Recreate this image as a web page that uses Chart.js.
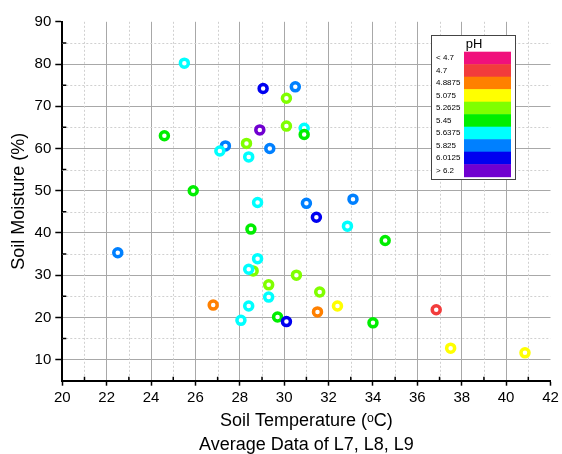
<!DOCTYPE html>
<html lang="en">

<head>
    <meta charset="UTF-8">
    <title>Soil Moisture vs Soil Temperature</title>
    <script src="https://cdn.jsdelivr.net/npm/chart.js"></script>
    <style>
        html,
        body {
            margin: 0;
            padding: 0;
            background: #fff;
            overflow: hidden;
        }

        #wrap {
            width: 562px;
            height: 454px;
        }
    </style>
</head>

<body>
    <div id="wrap">
        <canvas id="grafico" width="562" height="454"></canvas>
    </div>

    <script>
        // Valores (temperatura, humedad, clase de pH)
        const soilTemp = [25.5, 29.05, 30.5, 30.1, 24.6, 28.9, 30.1, 30.9, 30.9, 27.35,
            28.3, 27.1, 29.35, 28.4, 25.9, 28.8, 31.0, 33.1, 31.45, 32.85,
            28.5, 34.55, 22.5, 28.8, 28.6, 28.4, 30.55, 29.3, 31.6, 29.3,
            26.8, 28.4, 32.4, 31.5, 36.85, 28.05, 29.7, 30.1, 34.0, 37.5, 40.85];
        const soilMoist = [80.2, 74.2, 74.6, 71.9, 63.0, 64.4, 65.3, 64.8, 63.3, 60.6,
            61.2, 59.4, 60.0, 58.0, 50.0, 47.2, 47.0, 48.0, 43.7, 41.6,
            40.9, 38.2, 35.3, 33.9, 31.0, 31.4, 30.0, 27.7, 26.0, 24.8,
            22.9, 22.7, 22.7, 21.3, 21.8, 19.3, 20.1, 19.0, 18.7, 12.7, 11.6];
        const phClass = [6, 8, 7, 4, 5, 9, 4, 6, 5, 7,
            4, 6, 7, 6, 5, 6, 7, 7, 8, 6,
            5, 5, 7, 6, 4, 6, 4, 4, 4, 6,
            2, 6, 3, 2, 1, 6, 5, 8, 5, 3, 3];

        const xTicks = [20, 22, 24, 26, 28, 30, 32, 34, 36, 38, 40, 42];
        const xMinor = [21, 23, 25, 27, 29, 31, 33, 35, 37, 39, 41];
        const yTicks = [10, 20, 30, 40, 50, 60, 70, 80, 90];
        const yMinor = [15, 25, 35, 45, 55, 65, 75, 85];

        const phLabels = ['< 4.7', '4.7', '4.8875', '5.075', '5.2625', '5.45', '5.6375', '5.825', '6.0125', '> 6.2'];
        const phColors = ['#f0107c', '#f23c3c', '#ff8000', '#ffff00', '#80ff00', '#00ee00', '#00ffff', '#0080ff', '#0000f0', '#7000d0'];

        const fuente = '"Liberation Sans", Arial, sans-serif';

        // rejilla menor punteada y marcas menores hacia dentro
        const minorGrid = {
            id: 'minorGrid',
            beforeDatasetsDraw(chart) {
                const { ctx, chartArea: a, scales: { x, y } } = chart;
                ctx.save();
                ctx.strokeStyle = '#d0d0d0';
                ctx.lineWidth = 1;
                ctx.setLineDash([2, 2]);
                ctx.beginPath();
                xMinor.forEach(v => {
                    const px = Math.round(x.getPixelForValue(v)) + 0.5;
                    ctx.moveTo(px, a.top);
                    ctx.lineTo(px, a.bottom);
                });
                yMinor.forEach(v => {
                    const py = Math.round(y.getPixelForValue(v)) + 0.5;
                    ctx.moveTo(a.left, py);
                    ctx.lineTo(a.right, py);
                });
                ctx.stroke();

                ctx.setLineDash([]);
                ctx.strokeStyle = '#000';
                ctx.lineWidth = 1.5;
                ctx.beginPath();
                xMinor.forEach(v => {
                    const px = x.getPixelForValue(v);
                    ctx.moveTo(px, a.bottom);
                    ctx.lineTo(px, a.bottom - 4);
                });
                yMinor.forEach(v => {
                    const py = y.getPixelForValue(v);
                    ctx.moveTo(a.left, py);
                    ctx.lineTo(a.left + 4, py);
                });
                ctx.stroke();
                ctx.restore();
            }
        };

        // leyenda de pH con barras de color
        const phLegend = {
            id: 'phLegend',
            afterDatasetsDraw(chart) {
                const ctx = chart.ctx;
                const bx = 431, by = 35, bw = 84, bh = 144;
                ctx.save();
                ctx.fillStyle = '#fff';
                ctx.fillRect(bx, by, bw, bh);
                ctx.strokeStyle = '#444';
                ctx.lineWidth = 1;
                ctx.strokeRect(bx + 0.5, by + 0.5, bw, bh);

                ctx.fillStyle = '#000';
                ctx.font = '13px ' + fuente;
                ctx.textAlign = 'center';
                ctx.textBaseline = 'middle';
                ctx.fillText('pH', 474, 44);

                const rowH = 12.5, x0 = 464, w = 47, y0 = 51.7;
                phColors.forEach((c, i) => {
                    ctx.fillStyle = c;
                    ctx.fillRect(x0, y0 + i * rowH, w, rowH + 0.5);
                });
                ctx.font = '8px ' + fuente;
                ctx.textAlign = 'left';
                ctx.fillStyle = '#000';
                phLabels.forEach((t, i) => {
                    ctx.fillText(t, 436, y0 + i * rowH + rowH / 2);
                });
                ctx.restore();
            }
        };

        const puntos = soilTemp.map((t, i) => ({ x: t, y: soilMoist[i] }));

        new Chart(document.getElementById('grafico'), {
            type: 'scatter',
            data: {
                datasets: [{
                    data: puntos,
                    pointBackgroundColor: '#fff',
                    pointBorderColor: phClass.map(c => phColors[c]),
                    pointBorderWidth: 3.5,
                    pointRadius: 4,
                    pointHoverRadius: 4
                }]
            },
            options: {
                responsive: false,
                animation: false,
                events: [],
                layout: { padding: { top: 21.8, right: 11.5, bottom: 0, left: 0 } },
                plugins: {
                    legend: { display: false },
                    tooltip: { enabled: false }
                },
                scales: {
                    x: {
                        type: 'linear',
                        min: 20,
                        max: 42,
                        afterBuildTicks: s => { s.ticks = xTicks.map(v => ({ value: v })); },
                        afterFit: s => { s.height = 73.3; },
                        grid: {
                            color: c => (c.tick && c.tick.value === 42) ? 'rgba(0,0,0,0)' : '#a8a8a8',
                            lineWidth: 1,
                            tickColor: '#000',
                            tickLength: 5,
                            tickWidth: 1.5
                        },
                        border: { color: '#000', width: 2 },
                        ticks: {
                            color: '#000',
                            font: { family: fuente, size: 15 },
                            padding: 3,
                            maxRotation: 0,
                            autoSkip: false
                        },
                        title: {
                            display: true,
                            text: ['Soil Temperature (ᵒC)', 'Average Data of L7, L8, L9'],
                            color: '#000',
                            font: { family: fuente, size: 18, lineHeight: 1.333 },
                            padding: { top: 0, bottom: -3 }
                        }
                    },
                    y: {
                        type: 'linear',
                        min: 5,
                        max: 90,
                        afterBuildTicks: s => { s.ticks = yTicks.map(v => ({ value: v })); },
                        afterFit: s => { s.width = 62.3; },
                        grid: {
                            color: c => (c.tick && c.tick.value === 90) ? 'rgba(0,0,0,0)' : '#a8a8a8',
                            lineWidth: 1,
                            tickColor: '#000',
                            tickLength: 7,
                            tickWidth: 1.5
                        },
                        border: { color: '#000', width: 2 },
                        ticks: {
                            color: '#000',
                            font: { family: fuente, size: 15 },
                            padding: 4,
                            autoSkip: false
                        },
                        title: {
                            display: true,
                            text: 'Soil Moisture (%)',
                            color: '#000',
                            font: { family: fuente, size: 18, lineHeight: 1.333 },
                            padding: { top: 7, bottom: 0 }
                        }
                    }
                }
            },
            plugins: [minorGrid, phLegend]
        });
    </script>
</body>

</html>
